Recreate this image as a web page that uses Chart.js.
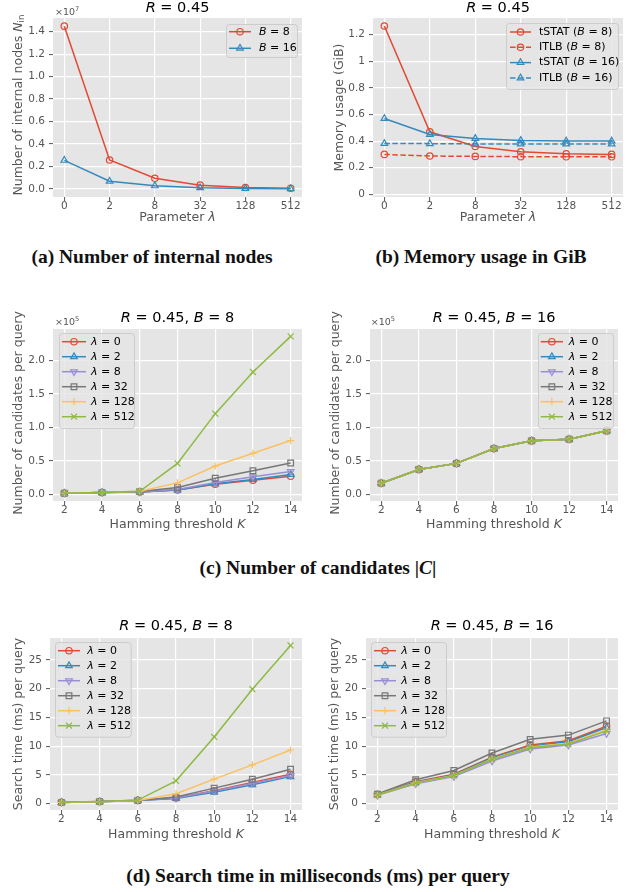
<!DOCTYPE html>
<html>
<head>
<meta charset="utf-8">
<script src="https://cdn.jsdelivr.net/npm/chart.js@4.4.1/dist/chart.umd.min.js"></script>
<style>
  html, body { margin: 0; padding: 0; background: #fff; }
  #page { position: relative; width: 638px; height: 892px; overflow: hidden; }
  canvas { position: absolute; }
  .caption {
    position: absolute;
    font: bold 19.5px "Liberation Serif", serif;
    line-height: 1;
    color: #111;
    white-space: nowrap;
    transform: translate(-50%, -50%);
  }
</style>
</head>
<body>
<div id="page">
  <canvas id="nodes" width="318" height="228" style="left:0;top:0"></canvas>
  <canvas id="memory" width="320" height="228" style="left:318px;top:0"></canvas>
  <canvas id="candB8" width="318" height="240" style="left:0;top:300px"></canvas>
  <canvas id="candB16" width="320" height="240" style="left:318px;top:300px"></canvas>
  <canvas id="timeB8" width="318" height="250" style="left:0;top:600px"></canvas>
  <canvas id="timeB16" width="320" height="250" style="left:318px;top:600px"></canvas>

  <div class="caption" style="left:152px;top:257px">(a) Number of internal nodes</div>
  <div class="caption" style="left:481px;top:257px">(b) Memory usage in GiB</div>
  <div class="caption" style="left:318px;top:568px">(c) Number of candidates |<i>C</i>|</div>
  <div class="caption" style="left:318px;top:876px">(d) Search time in milliseconds (ms) per query</div>
</div>
<script>
// x categories
const LAMBDAS = ["0", "2", "8", "32", "128", "512"];
const K_VALUES = [2, 4, 6, 8, 10, 12, 14];

// (a) internal nodes
const NODES_B8 = [14500000, 2570000, 940000, 330000, 120000, 60000];
const NODES_B16 = [2540000, 680000, 270000, 100000, 35000, 10000];

// (b) memory in GiB
const MEM_TSTAT_B8 = [1.265, 0.47, 0.36, 0.32, 0.305, 0.30];
const MEM_ITLB_B8 = [0.30, 0.288, 0.285, 0.283, 0.282, 0.282];
const MEM_TSTAT_B16 = [0.57, 0.45, 0.42, 0.405, 0.40, 0.40];
const MEM_ITLB_B16 = [0.382, 0.381, 0.379, 0.378, 0.378, 0.378];

// (c) candidates per query, B = 8, one list per lambda
const CAND_B8_L0 = [2000, 3000, 4000, 7000, 15500, 21500, 27500];
const CAND_B8_L2 = [2000, 3000, 4000, 7000, 16000, 22500, 30000];
const CAND_B8_L8 = [2000, 3000, 4000, 7500, 18000, 26500, 34500];
const CAND_B8_L32 = [2000, 3000, 4500, 10500, 24500, 35500, 47000];
const CAND_B8_L128 = [2000, 3000, 5000, 17500, 42500, 61500, 80500];
const CAND_B8_L512 = [2000, 3000, 5000, 46500, 120500, 182500, 235500];

// (c) candidates per query, B = 16
const CAND_B16_L0 = [17000, 37500, 46500, 68500, 80000, 82500, 95000];
const CAND_B16_L2 = [17000, 37500, 46500, 68500, 80000, 82500, 95000];
const CAND_B16_L8 = [17000, 37500, 46500, 68500, 80000, 82500, 95000];
const CAND_B16_L32 = [17000, 37500, 46500, 68500, 80000, 82500, 95000];
const CAND_B16_L128 = [17000, 37500, 46500, 68500, 80000, 82500, 95000];
const CAND_B16_L512 = [17000, 37500, 46500, 68500, 80000, 82500, 95000];

// (d) search time in ms, B = 8
const TIME_B8_L0 = [0.25, 0.38, 0.6, 1.0, 2.25, 3.7, 5.1];
const TIME_B8_L2 = [0.22, 0.35, 0.55, 0.92, 2.0, 3.3, 4.7];
const TIME_B8_L8 = [0.22, 0.35, 0.55, 0.98, 2.2, 3.5, 4.9];
const TIME_B8_L32 = [0.22, 0.36, 0.56, 1.15, 2.7, 4.26, 6.0];
const TIME_B8_L128 = [0.22, 0.35, 0.55, 1.73, 4.26, 6.74, 9.33];
const TIME_B8_L512 = [0.23, 0.35, 0.63, 3.97, 11.6, 19.9, 27.5];

// (d) search time in ms, B = 16
const TIME_B16_L0 = [1.6, 3.8, 5.13, 8.06, 10.2, 10.94, 13.48];
const TIME_B16_L2 = [1.55, 3.74, 5.0, 8.0, 10.0, 10.77, 13.25];
const TIME_B16_L8 = [1.45, 3.46, 4.72, 7.43, 9.5, 10.2, 12.2];
const TIME_B16_L32 = [1.67, 4.15, 5.76, 8.81, 11.18, 11.92, 14.4];
const TIME_B16_L128 = [1.5, 3.63, 4.9, 7.78, 9.85, 10.5, 12.8];
const TIME_B16_L512 = [1.5, 3.57, 4.9, 7.72, 9.73, 10.37, 12.65];

// y tick values
const NODE_TICKS = [0, 2e6, 4e6, 6e6, 8e6, 10e6, 12e6, 14e6];
const MEM_TICKS = [0, 0.2, 0.4, 0.6, 0.8, 1, 1.2];
const CAND_TICKS = [0, 50000, 100000, 150000, 200000];
const TIME_TICKS = [0, 5, 10, 15, 20, 25];

// ggplot palette and markers
const COLORS = ["#E24A33", "#348ABD", "#988ED5", "#777777", "#FBC15E", "#8EBA42"];
const MARKERS = [
  { style: "circle", radius: 3.2 },
  { style: "triangle", radius: 3.8 },
  { style: "triangle", radius: 3.8, rotation: 180 },
  { style: "rect", radius: 4 },
  { style: "cross", radius: 3.6 },
  { style: "crossRot", radius: 4.2 },
];

const FONT = '"DejaVu Sans"';
const TICK_COLOR = "#555555";
const TITLE_SIZE = 14.5;
const LABEL_SIZE = 12.5;
const TICK_SIZE = 10.5;
const LEGEND_SIZE = 11;

function fontFor(style, size) {
  const s = style === "sub" || style === "sup" ? size * 0.7 : size;
  return `${style === "i" ? "italic " : ""}${s}px ${FONT}`;
}

// draws mixed upright / italic / sub / sup runs as one string
function drawRich(ctx, parts, x, y, size, color, align, rotate) {
  ctx.save();
  ctx.translate(x, y);
  if (rotate) ctx.rotate(rotate);
  ctx.fillStyle = color;
  ctx.textBaseline = "middle";
  ctx.textAlign = "left";
  let total = 0;
  const widths = parts.map(([t, st]) => {
    ctx.font = fontFor(st, size);
    const w = ctx.measureText(t).width;
    total += w;
    return w;
  });
  let cx = align === "left" ? 0 : align === "right" ? -total : -total / 2;
  parts.forEach(([t, st], i) => {
    ctx.font = fontFor(st, size);
    const dy = st === "sub" ? size * 0.25 : st === "sup" ? -size * 0.35 : 0;
    ctx.fillText(t, cx, dy);
    cx += widths[i];
  });
  ctx.restore();
}

const ggBackground = {
  id: "ggBackground",
  beforeDraw(chart) {
    const { ctx, chartArea: a } = chart;
    ctx.save();
    ctx.fillStyle = "#E5E5E5";
    ctx.fillRect(a.left, a.top, a.right - a.left, a.bottom - a.top);
    ctx.restore();
  },
};

const panelText = {
  id: "panelText",
  afterDraw(chart, args, opts) {
    (opts.items || []).forEach((it) => {
      drawRich(chart.ctx, it.parts, it.x, it.y, it.size, it.color, it.align, it.rotate);
    });
  },
};

const boxLegend = {
  id: "boxLegend",
  afterDraw(chart, args, opts) {
    if (!opts.rows) return;
    const ctx = chart.ctx;
    const { x0, x1, y0, y1 } = opts.box;
    ctx.save();
    ctx.beginPath();
    ctx.roundRect(x0 + 0.5, y0 + 0.5, x1 - x0, y1 - y0, 3);
    ctx.fillStyle = "rgba(229,229,229,0.8)";
    ctx.fill();
    ctx.strokeStyle = "#CCCCCC";
    ctx.lineWidth = 1;
    ctx.stroke();

    opts.rows.forEach((row, i) => {
      const y = opts.rowY + i * opts.rowDy;
      ctx.beginPath();
      ctx.setLineDash(row.dash || []);
      ctx.strokeStyle = row.color;
      ctx.lineWidth = 1.5;
      ctx.moveTo(opts.lineX0, y);
      ctx.lineTo(opts.lineX1, y);
      ctx.stroke();
      ctx.setLineDash([]);
      ctx.fillStyle = "rgba(0,0,0,0)";
      ctx.strokeStyle = row.color;
      ctx.lineWidth = 1.2;
      Chart.helpers.drawPoint(ctx, {
        pointStyle: row.marker.style,
        rotation: row.marker.rotation || 0,
        radius: row.marker.radius,
        borderWidth: 1.2,
      }, (opts.lineX0 + opts.lineX1) / 2, y);
      drawRich(ctx, row.parts, opts.textX, y, LEGEND_SIZE, "#000", "left");
    });
    ctx.restore();
  },
};

function series(label, xs, ys, color, marker, order, dash) {
  return {
    label,
    data: xs.map((x, i) => ({ x, y: ys[i] })),
    borderColor: color,
    backgroundColor: color,
    borderWidth: 1.5,
    borderDash: dash || [],
    pointStyle: marker.style,
    pointRotation: marker.rotation || 0,
    pointRadius: marker.radius,
    pointBorderWidth: 1.2,
    pointBorderColor: color,
    pointBackgroundColor: "rgba(0,0,0,0)",
    tension: 0,
    order,
  };
}

function axis(min, max, ticks, fmt, isX) {
  return {
    type: "linear",
    min,
    max,
    afterBuildTicks(scale) {
      scale.ticks = ticks.map((v) => ({ value: v }));
    },
    ticks: {
      callback: fmt,
      color: TICK_COLOR,
      font: { family: "DejaVu Sans", size: TICK_SIZE, lineHeight: 1 },
      padding: isX ? 0 : 4,
      maxRotation: 0,
      autoSkip: false,
    },
    grid: { color: "#FFFFFF", lineWidth: 1.2, tickColor: TICK_COLOR, tickLength: 4, tickWidth: 1 },
    border: { display: false },
  };
}

function makePanel(id, area, xAxis, yAxis, datasets, items, legend) {
  const canvas = document.getElementById(id);
  const W = canvas.width;
  const H = canvas.height;
  xAxis.afterFit = (s) => { s.height = H - area.bottom; };
  yAxis.afterFit = (s) => { s.width = area.left; };
  return new Chart(canvas, {
    type: "line",
    data: { datasets },
    options: {
      responsive: false,
      animation: false,
      devicePixelRatio: 1,
      events: [],
      layout: { padding: { left: 0, top: area.top, right: W - area.right, bottom: 0 } },
      scales: { x: xAxis, y: yAxis },
      plugins: {
        legend: { display: false },
        tooltip: { enabled: false },
        panelText: { items },
        boxLegend: legend,
      },
    },
    plugins: [ggBackground, panelText, boxLegend],
  });
}

const lambdaIdx = LAMBDAS.map((_, i) => i);
const lambdaAxis = () => axis(-0.25, 5.25, lambdaIdx, (v) => LAMBDAS[v], true);
const kAxis = () => axis(1.4, 14.6, K_VALUES, (v) => String(v), true);

const R_TITLE = [["R", "i"], [" = 0.45", "n"]];
const titleRB = (b) => [["R", "i"], [" = 0.45, ", "n"], ["B", "i"], [` = ${b}`, "n"]];
const LAMBDA_X_TITLE = [["Parameter ", "n"], ["λ", "i"]];
const K_X_TITLE = [["Hamming threshold ", "n"], ["K", "i"]];
const UP = -Math.PI / 2;

function lambdaRows() {
  return LAMBDAS.map((l, i) => ({
    parts: [["λ", "i"], [` = ${l}`, "n"]],
    color: COLORS[i],
    marker: MARKERS[i],
  }));
}

function lambdaSets(lists) {
  return lists.map((ys, i) => series(`λ = ${LAMBDAS[i]}`, K_VALUES, ys, COLORS[i], MARKERS[i], -i));
}

// (a) internal nodes
makePanel("nodes", { left: 53, top: 18, right: 302, bottom: 197 },
  lambdaAxis(),
  axis(-725000, 15225000, NODE_TICKS, (v) => (v / 1e7).toFixed(1)),
  [
    series("B = 8", lambdaIdx, NODES_B8, COLORS[0], MARKERS[0], 0),
    series("B = 16", lambdaIdx, NODES_B16, COLORS[1], MARKERS[1], -1),
  ],
  [
    { parts: R_TITLE, x: 177.5, y: 8, size: TITLE_SIZE, color: "#000" },
    { parts: [["×10", "n"], ["7", "sup"]], x: 55, y: 12.5, size: 9.5, color: TICK_COLOR, align: "left" },
    { parts: [["Number of internal nodes ", "n"], ["N", "i"], ["in", "sub"]], x: 19, y: 105, size: LABEL_SIZE, color: TICK_COLOR, rotate: UP },
    { parts: LAMBDA_X_TITLE, x: 177.5, y: 218, size: LABEL_SIZE, color: TICK_COLOR },
  ],
  {
    box: { x0: 226, x1: 297, y0: 24, y1: 57 },
    rowY: 31.7, rowDy: 16.6, lineX0: 229, lineX1: 251, textX: 259,
    rows: [
      { parts: [["B", "i"], [" = 8", "n"]], color: COLORS[0], marker: MARKERS[0] },
      { parts: [["B", "i"], [" = 16", "n"]], color: COLORS[1], marker: MARKERS[1] },
    ],
  });

// (b) memory usage
const DASH = [5.5, 2.5];
makePanel("memory", { left: 55, top: 18, right: 305, bottom: 197 },
  lambdaAxis(),
  axis(-0.02, 1.325, MEM_TICKS, (v) => String(v)),
  [
    series("tSTAT (B = 8)", lambdaIdx, MEM_TSTAT_B8, COLORS[0], MARKERS[0], 0),
    series("ITLB (B = 8)", lambdaIdx, MEM_ITLB_B8, COLORS[0], MARKERS[0], -1, DASH),
    series("tSTAT (B = 16)", lambdaIdx, MEM_TSTAT_B16, COLORS[1], MARKERS[1], -2),
    series("ITLB (B = 16)", lambdaIdx, MEM_ITLB_B16, COLORS[1], MARKERS[1], -3, DASH),
  ],
  [
    { parts: R_TITLE, x: 180, y: 8, size: TITLE_SIZE, color: "#000" },
    { parts: [["Memory usage (GiB)", "n"]], x: 22, y: 107.5, size: LABEL_SIZE, color: TICK_COLOR, rotate: UP },
    { parts: LAMBDA_X_TITLE, x: 180, y: 218, size: LABEL_SIZE, color: TICK_COLOR },
  ],
  {
    box: { x0: 188, x1: 300, y0: 23, y1: 89 },
    rowY: 32, rowDy: 15.3, lineX0: 192, lineX1: 213, textX: 221,
    rows: [
      { parts: [["tSTAT (", "n"], ["B", "i"], [" = 8)", "n"]], color: COLORS[0], marker: MARKERS[0] },
      { parts: [["ITLB (", "n"], ["B", "i"], [" = 8)", "n"]], color: COLORS[0], marker: MARKERS[0], dash: DASH },
      { parts: [["tSTAT (", "n"], ["B", "i"], [" = 16)", "n"]], color: COLORS[1], marker: MARKERS[1] },
      { parts: [["ITLB (", "n"], ["B", "i"], [" = 16)", "n"]], color: COLORS[1], marker: MARKERS[1], dash: DASH },
    ],
  });

// (c) candidates
const candFmt = (v) => (v / 1e5).toFixed(1);
makePanel("candB8", { left: 53, top: 29, right: 302, bottom: 201 },
  kAxis(),
  axis(-9500, 246500, CAND_TICKS, candFmt),
  lambdaSets([CAND_B8_L0, CAND_B8_L2, CAND_B8_L8, CAND_B8_L32, CAND_B8_L128, CAND_B8_L512]),
  [
    { parts: titleRB(8), x: 177.5, y: 18, size: TITLE_SIZE, color: "#000" },
    { parts: [["×10", "n"], ["5", "sup"]], x: 55, y: 22.5, size: 9.5, color: TICK_COLOR, align: "left" },
    { parts: [["Number of candidates per query", "n"]], x: 19, y: 113, size: LABEL_SIZE, color: TICK_COLOR, rotate: UP },
    { parts: K_X_TITLE, x: 177.5, y: 225, size: LABEL_SIZE, color: TICK_COLOR },
  ],
  { box: { x0: 59, x1: 134, y0: 33, y1: 128 }, rowY: 41.7, rowDy: 15, lineX0: 62, lineX1: 86, textX: 91, rows: lambdaRows() });

makePanel("candB16", { left: 52, top: 29, right: 300, bottom: 201 },
  kAxis(),
  axis(-9500, 246500, CAND_TICKS, candFmt),
  lambdaSets([CAND_B16_L0, CAND_B16_L2, CAND_B16_L8, CAND_B16_L32, CAND_B16_L128, CAND_B16_L512]),
  [
    { parts: titleRB(16), x: 176, y: 18, size: TITLE_SIZE, color: "#000" },
    { parts: [["×10", "n"], ["5", "sup"]], x: 52.7, y: 22.5, size: 9.5, color: TICK_COLOR, align: "left" },
    { parts: [["Number of candidates per query", "n"]], x: 18, y: 113, size: LABEL_SIZE, color: TICK_COLOR, rotate: UP },
    { parts: K_X_TITLE, x: 176, y: 225, size: LABEL_SIZE, color: TICK_COLOR },
  ],
  { box: { x0: 220, x1: 295, y0: 33, y1: 128 }, rowY: 41.7, rowDy: 15, lineX0: 222.7, lineX1: 245, textX: 250.7, rows: lambdaRows() });

// (d) search time
makePanel("timeB8", { left: 50, top: 38, right: 302, bottom: 210 },
  kAxis(),
  axis(-1.1, 28.8, TIME_TICKS, (v) => String(v)),
  lambdaSets([TIME_B8_L0, TIME_B8_L2, TIME_B8_L8, TIME_B8_L32, TIME_B8_L128, TIME_B8_L512]),
  [
    { parts: titleRB(8), x: 176, y: 26.7, size: TITLE_SIZE, color: "#000" },
    { parts: [["Search time (ms) per query", "n"]], x: 19, y: 124, size: LABEL_SIZE, color: TICK_COLOR, rotate: UP },
    { parts: K_X_TITLE, x: 176, y: 235, size: LABEL_SIZE, color: TICK_COLOR },
  ],
  { box: { x0: 55, x1: 130.7, y0: 42, y1: 136.7 }, rowY: 50.7, rowDy: 15, lineX0: 58, lineX1: 80, textX: 87.3, rows: lambdaRows() });

makePanel("timeB16", { left: 48, top: 38, right: 300, bottom: 210 },
  kAxis(),
  axis(-1.1, 28.8, TIME_TICKS, (v) => String(v)),
  lambdaSets([TIME_B16_L0, TIME_B16_L2, TIME_B16_L8, TIME_B16_L32, TIME_B16_L128, TIME_B16_L512]),
  [
    { parts: titleRB(16), x: 174, y: 26.7, size: TITLE_SIZE, color: "#000" },
    { parts: [["Search time (ms) per query", "n"]], x: 17, y: 124, size: LABEL_SIZE, color: TICK_COLOR, rotate: UP },
    { parts: K_X_TITLE, x: 174, y: 235, size: LABEL_SIZE, color: TICK_COLOR },
  ],
  { box: { x0: 53, x1: 128, y0: 42, y1: 136.7 }, rowY: 50.7, rowDy: 15, lineX0: 56, lineX1: 78, textX: 83.3, rows: lambdaRows() });
</script>
</body>
</html>
